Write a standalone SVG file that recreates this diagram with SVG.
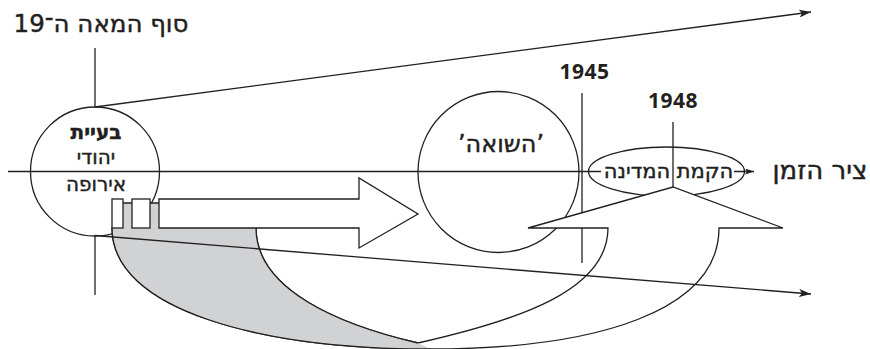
<svg xmlns="http://www.w3.org/2000/svg" width="870" height="349" viewBox="0 0 870 349">
<style>
.ln{fill:none;stroke:#231f20;stroke-width:1.3}
.sh{fill:#fff;stroke:#231f20;stroke-width:1.3;stroke-linejoin:miter}
.t{font-family:"DejaVu Sans",sans-serif;fill:#231f20;font-weight:500;stroke:#231f20;stroke-width:0.45}
.d{font-family:"Open Sans","DejaVu Sans",sans-serif;fill:#231f20;font-weight:700;letter-spacing:0.5px}
</style>
<defs>
<marker id="ah" viewBox="0 0 12 8" refX="12" refY="4" markerWidth="12" markerHeight="8" markerUnits="userSpaceOnUse" orient="auto"><path d="M0,0 L12,4 L0,8 L3,4 Z" fill="#231f20"/></marker>
<marker id="ah2" viewBox="0 0 9 6" refX="9" refY="3" markerWidth="9" markerHeight="6" markerUnits="userSpaceOnUse" orient="auto"><path d="M0,0 L9,3 L0,6 L2,3 Z" fill="#231f20"/></marker>
</defs>
<rect width="870" height="349" fill="#fff"/>
<g id="connectors">
<line class="ln" x1="95" y1="48" x2="95" y2="107"/>
<line class="ln" x1="95" y1="236" x2="95" y2="295"/>
<line class="ln" x1="582" y1="93" x2="582" y2="263"/>
<line class="ln" x1="8" y1="171.5" x2="754" y2="171.5" marker-end="url(#ah2)"/>
</g>
<g id="node-europe">
<circle class="ln" cx="95" cy="171.5" r="64.5"/>
<text class="t" x="96" y="139" font-size="20" style="font-weight:700" text-anchor="middle" direction="rtl">בעיית</text>
<text class="t" x="96" y="164" font-size="20" text-anchor="middle" direction="rtl">יהודי</text>
<text class="t" x="96" y="191" font-size="20" text-anchor="middle" direction="rtl">אירופה</text>
</g>
<g id="node-shoah">
<circle class="ln" cx="498.5" cy="172" r="80.5"/>
<text class="t" x="501" y="152" font-size="24" text-anchor="middle" direction="rtl">’השואה’</text>
</g>
<g id="node-state">
<ellipse class="ln" cx="666.5" cy="171.5" rx="78" ry="24.5"/>
<rect x="601" y="160" width="133" height="22" fill="#fff"/>
<text class="t" x="637" y="178" font-size="21" text-anchor="middle" direction="rtl">המדינה</text>
<text class="t" x="705" y="178" font-size="21" text-anchor="middle" direction="rtl">הקמת</text>
<line class="ln" x1="673" y1="122" x2="673" y2="187"/>
</g>
<g id="labels">
<text class="t" x="101" y="32" font-size="24.5" text-anchor="middle" direction="rtl">סוף המאה ה־19</text>
<text class="d" x="584.5" y="79" font-size="21" text-anchor="middle">1945</text>
<text class="d" x="673" y="108" font-size="21" text-anchor="middle">1948</text>
<text class="t" x="820" y="179" font-size="26" text-anchor="middle" direction="rtl">ציר הזמן</text>
</g>
<g id="node-u-arrow">
<path class="sh" d="M112,228 C112,310 260,349 430,349 C600,349 719,310 719,228 L783,228 L673,187 L528,228 L608,228 C608,290 520,320 418,343 C340,325 256,290 256,228 Z"/>
<path d="M112,203 H256 V228 C256,290 340,325 418,343 L430,349 C260,349 112,310 112,228 Z" fill="#d1d2d4"/>
<path class="ln" d="M112,228 C112,310 260,349 430,349 M256,228 C256,290 340,325 418,343"/>
<line class="ln" x1="112" y1="203" x2="160" y2="203"/>
</g>
<g id="node-right-arrow">
<rect class="sh" x="112" y="199" width="11" height="29"/>
<rect class="sh" x="132" y="199" width="18" height="29"/>
<path class="sh" d="M159,199 H359 V178 L418,214 L359,248 V228 H159 Z"/>
</g>
<g id="connectors-top">
<line class="ln" x1="95" y1="107" x2="811" y2="12" marker-end="url(#ah)"/>
<line class="ln" x1="95" y1="235.5" x2="811" y2="294" marker-end="url(#ah)"/>
</g>
</svg>
